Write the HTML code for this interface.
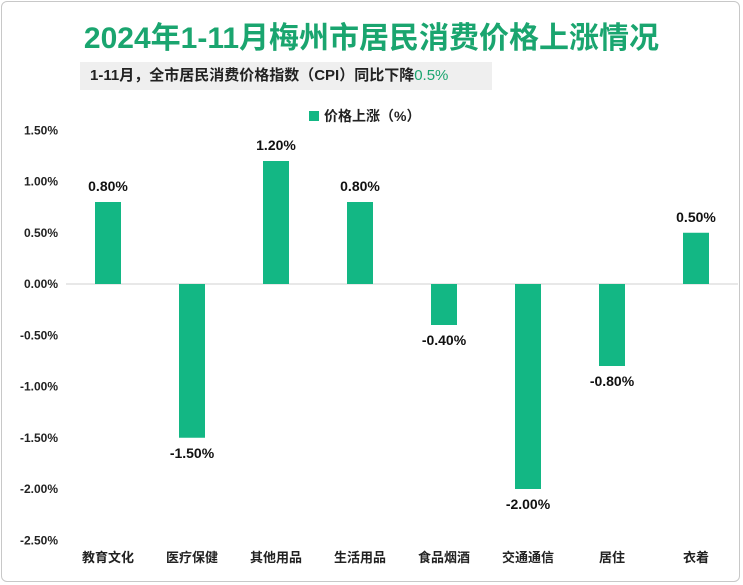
<!DOCTYPE html>
<html><head><meta charset="utf-8"><style>
html,body{margin:0;padding:0;background:#fff;}
body{width:743px;height:585px;position:relative;overflow:hidden;font-family:"Liberation Sans","Noto Sans CJK SC",sans-serif;}
#frame{position:absolute;left:1px;top:1px;width:739px;height:581px;border:1px solid #c8c8c8;border-radius:6px;box-sizing:border-box;}
#title{position:absolute;left:0;top:13px;width:743px;text-align:center;font-size:30px;font-weight:bold;color:#1aa56f;}
#sub{position:absolute;left:80px;top:62px;width:412px;height:28px;background:#efefef;font-size:15px;font-weight:bold;line-height:28px;padding-left:10px;box-sizing:border-box;color:#222;}
#sub span{color:#1aa56f;font-weight:normal;}
svg{position:absolute;left:0;top:0;}
</style></head><body>
<div id="frame"></div>
<div id="title">2024年1-11月梅州市居民消费价格上涨情况</div>
<div id="sub">1-11月，全市居民消费价格指数（CPI）同比下降<span>0.5%</span></div>
<svg id="chart" width="743" height="585"></svg>
<script>
const categories=["教育文化","医疗保健","其他用品","生活用品","食品烟酒","交通通信","居住","衣着"];
const values=[0.8,-1.5,1.2,0.8,-0.4,-2.0,-0.8,0.5];
const ticks=[1.5,1.0,0.5,0,-0.5,-1.0,-1.5,-2.0,-2.5];
const NS="http://www.w3.org/2000/svg";
const svg=document.getElementById('chart');
const y0=284,pxPer=102.5,left=66,step=84,bw=26;
const y=v=>y0-v*pxPer;
const x=i=>left+step*i+step/2;
function mk(t,a,txt){const e=document.createElementNS(NS,t);for(const k in a)e.setAttribute(k,a[k]);if(txt!=null)e.textContent=txt;svg.appendChild(e);return e;}
ticks.forEach(t=>{
 const e=mk('text',{x:58,y:y(t)+4,'text-anchor':'end','font-size':12,'font-weight':'bold',fill:'#222'},t.toFixed(2)+'%');
 
 
});
const ax=mk('line',{x1:left,x2:left+step*8,y1:y0,y2:y0,stroke:'#d0d0d0','stroke-width':1});


values.forEach((v,i)=>{
 const top=Math.min(y(v),y0),h=Math.abs(y(v)-y0);
 const r=mk('rect',{x:x(i)-bw/2,y:top,width:bw,height:h,fill:'#13b784'});
 
 
 const ly=v>=0?y(v)-11:y(v)+20;
 const l=mk('text',{x:x(i),y:ly,'text-anchor':'middle','font-size':14,'font-weight':'bold',fill:'#111'},v.toFixed(2)+'%');
 
 
 const c=mk('text',{x:x(i),y:562,'text-anchor':'middle','font-size':13,'font-weight':'bold',fill:'#222'},categories[i]);
 
 
});
const lg=mk('rect',{x:309,y:111,width:10,height:10,fill:'#13b784'});


const lt=mk('text',{x:324,y:121,'font-size':14,'font-weight':'bold',fill:'#222'},'价格上涨（%）');


</script>
</body></html>
